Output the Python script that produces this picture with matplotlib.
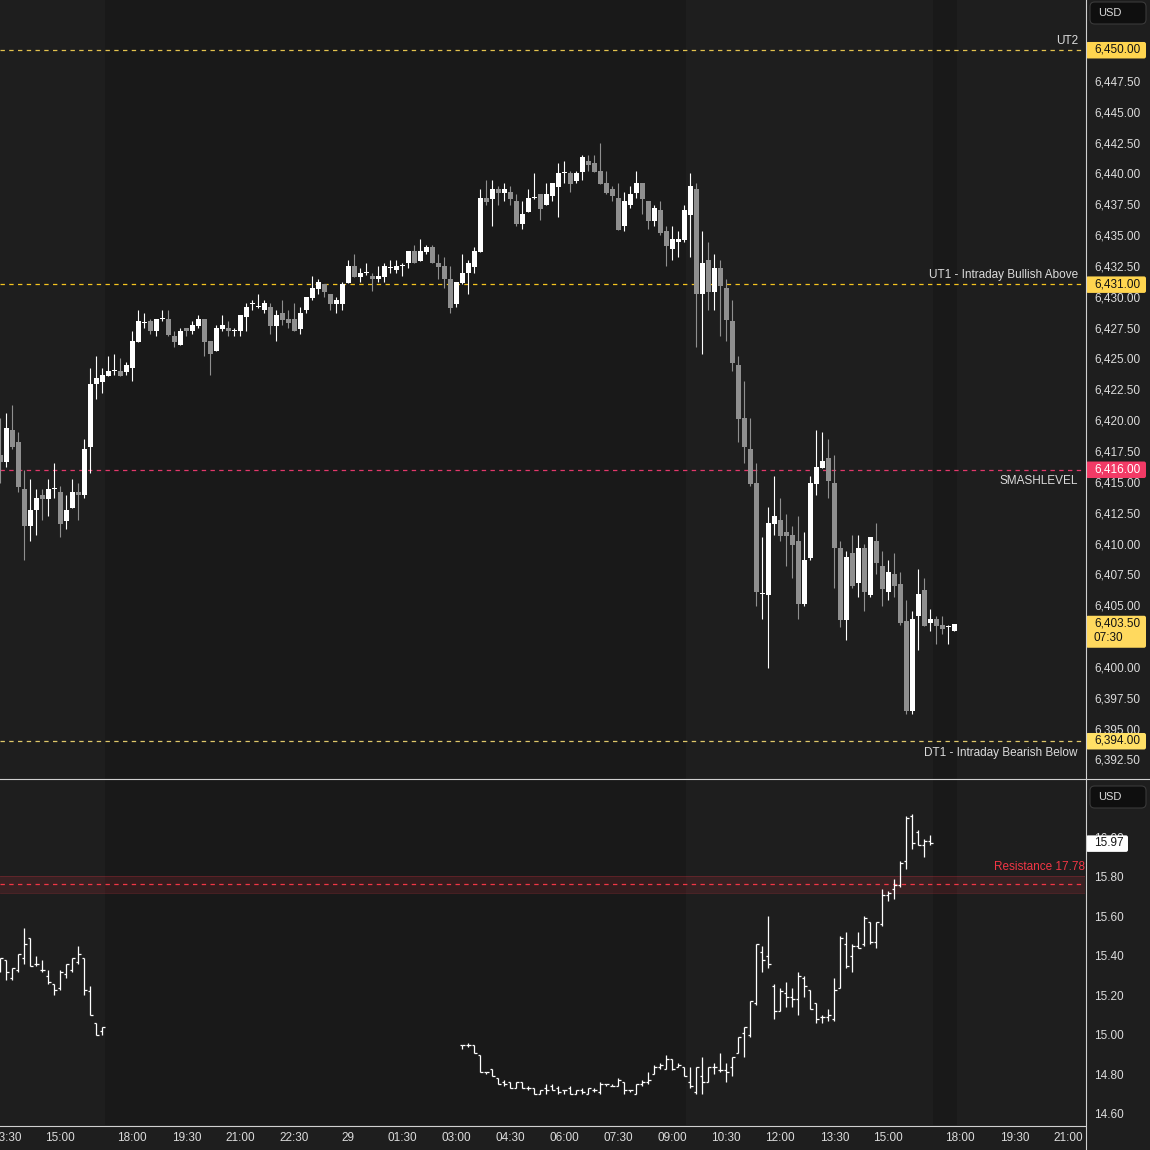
import numpy as np
import matplotlib
matplotlib.use('Agg')
import matplotlib.pyplot as plt
from matplotlib.patches import FancyBboxPatch, Rectangle
from matplotlib.lines import Line2D
from matplotlib.transforms import IdentityTransform
from matplotlib.ticker import FuncFormatter

plt.rcParams['font.family'] = ['Liberation Sans', 'DejaVu Sans']

# ---- ES 10 min candles (bar index 0..159) ----
opens = [6417.2, 6416.6, 6419.2, 6418.2, 6414.4, 6411.4, 6412.7, 6413.9, 6413.6, 6414.4,
         6414.2, 6411.8, 6412.9, 6414.2, 6413.9, 6417.8, 6422.9, 6423.1, 6423.6, 6424.0,
         6424.0, 6423.9, 6424.2, 6426.3, 6427.9, 6428.0, 6427.2, 6428.2, 6428.2, 6426.8,
         6426.1, 6427.5, 6427.2, 6427.6, 6428.2, 6426.4, 6425.6, 6427.4, 6427.5, 6427.2,
         6427.2, 6428.4, 6429.4, 6429.2, 6428.9, 6429.2, 6427.6, 6428.7, 6428.2, 6428.2,
         6427.4, 6428.9, 6429.9, 6430.6, 6431.0, 6430.2, 6429.4, 6429.4, 6431.1, 6432.5,
         6431.6, 6431.9, 6431.7, 6431.4, 6431.6, 6432.3, 6432.2, 6432.5, 6432.7, 6433.7,
         6432.9, 6433.6, 6434.0, 6432.7, 6432.5, 6431.4, 6429.4, 6431.1, 6431.9, 6432.4,
         6433.6, 6438.0, 6437.9, 6438.7, 6438.4, 6438.5, 6437.8, 6435.9, 6436.9, 6438.0,
         6438.3, 6437.4, 6438.2, 6438.9, 6440.0, 6440.0, 6439.4, 6440.1, 6441.0, 6440.8,
         6440.2, 6439.2, 6438.7, 6438.0, 6435.7, 6437.4, 6438.4, 6439.2, 6437.8, 6436.1,
         6437.0, 6435.3, 6433.9, 6434.4, 6434.6, 6436.6, 6438.7, 6430.2, 6433.0, 6430.4,
         6432.3, 6430.7, 6428.0, 6424.5, 6420.2, 6417.7, 6414.9, 6405.9, 6405.8, 6411.6,
         6411.9, 6410.9, 6410.7, 6410.2, 6405.1, 6408.8, 6414.8, 6416.1, 6416.9, 6414.9,
         6409.6, 6403.8, 6409.2, 6406.8, 6409.6, 6405.8, 6410.2, 6408.2, 6406.1, 6407.5,
         6406.7, 6403.7, 6396.4, 6404.1, 6406.2, 6403.6, 6403.9, 6403.4, 6403.2, 6402.9]
highs = [6420.2, 6420.6, 6421.2, 6419.0, 6416.0, 6415.2, 6414.4, 6414.4, 6415.2, 6416.5,
         6414.7, 6413.9, 6415.2, 6414.9, 6418.5, 6424.2, 6425.2, 6424.2, 6425.2, 6425.4,
         6425.0, 6424.7, 6427.2, 6428.9, 6428.7, 6428.2, 6428.2, 6428.9, 6428.9, 6427.2,
         6427.5, 6427.5, 6428.0, 6428.5, 6428.2, 6426.4, 6427.7, 6428.5, 6428.0, 6427.5,
         6428.5, 6429.5, 6429.7, 6430.2, 6429.7, 6429.5, 6428.9, 6429.7, 6428.9, 6429.5,
         6429.2, 6430.0, 6431.7, 6431.4, 6431.0, 6430.2, 6430.0, 6431.2, 6433.0, 6433.5,
         6432.3, 6432.7, 6431.9, 6432.5, 6432.7, 6433.0, 6433.0, 6432.7, 6433.7, 6434.2,
         6434.7, 6434.2, 6434.2, 6433.5, 6433.2, 6432.5, 6431.2, 6433.5, 6433.0, 6434.0,
         6438.7, 6439.5, 6439.5, 6439.0, 6439.2, 6439.0, 6438.3, 6437.8, 6438.7, 6440.0,
         6438.3, 6439.2, 6439.2, 6440.8, 6441.0, 6440.2, 6440.2, 6441.5, 6441.5, 6441.5,
         6442.5, 6440.2, 6439.0, 6439.2, 6438.5, 6439.0, 6440.2, 6439.2, 6437.8, 6437.4,
         6437.8, 6435.7, 6435.7, 6435.3, 6437.4, 6440.0, 6439.2, 6435.3, 6434.4, 6433.5,
         6433.0, 6431.4, 6429.7, 6425.2, 6423.2, 6420.2, 6416.5, 6410.5, 6413.0, 6415.5,
         6413.7, 6412.4, 6411.4, 6412.2, 6410.9, 6415.5, 6419.2, 6419.0, 6418.5, 6417.2,
         6410.2, 6409.4, 6410.7, 6410.7, 6410.0, 6410.5, 6411.7, 6409.4, 6408.7, 6409.2,
         6407.7, 6405.4, 6404.5, 6407.9, 6407.2, 6404.7, 6404.1, 6404.1, 6403.4, 6403.5]
lows = [6414.9, 6416.2, 6417.7, 6414.2, 6408.7, 6410.2, 6410.7, 6411.9, 6412.2, 6413.7,
        6410.5, 6411.2, 6412.9, 6411.9, 6413.7, 6415.7, 6421.7, 6422.2, 6423.6, 6423.7,
        6423.6, 6423.7, 6423.2, 6426.3, 6427.5, 6427.0, 6426.8, 6428.0, 6426.8, 6425.9,
        6426.1, 6426.8, 6427.0, 6427.5, 6425.2, 6423.7, 6425.6, 6427.2, 6426.8, 6426.8,
        6426.8, 6427.2, 6428.9, 6429.1, 6428.7, 6427.0, 6426.4, 6427.7, 6427.5, 6427.2,
        6427.0, 6428.7, 6429.7, 6430.2, 6430.0, 6428.9, 6428.7, 6428.9, 6431.1, 6431.6,
        6431.2, 6431.8, 6430.5, 6431.2, 6431.2, 6431.9, 6431.9, 6431.7, 6432.3, 6432.7,
        6432.9, 6433.5, 6432.7, 6431.4, 6430.7, 6428.7, 6429.2, 6431.0, 6430.2, 6431.9,
        6433.6, 6437.4, 6435.7, 6437.4, 6437.8, 6437.4, 6435.7, 6435.5, 6436.9, 6437.9,
        6436.2, 6437.4, 6437.8, 6436.5, 6439.2, 6438.5, 6439.2, 6439.5, 6440.2, 6440.1,
        6439.1, 6438.3, 6437.8, 6435.4, 6435.3, 6437.2, 6438.0, 6436.7, 6435.5, 6435.7,
        6435.0, 6432.5, 6433.0, 6433.2, 6434.4, 6433.2, 6425.9, 6425.4, 6428.9, 6428.9,
        6426.8, 6426.4, 6424.0, 6418.2, 6416.5, 6414.7, 6404.9, 6403.9, 6399.9, 6410.7,
        6410.2, 6408.2, 6407.2, 6403.9, 6404.9, 6408.7, 6413.9, 6416.1, 6413.7, 6406.4,
        6403.2, 6402.2, 6406.4, 6405.7, 6404.5, 6405.7, 6407.5, 6404.9, 6405.4, 6405.7,
        6403.4, 6396.2, 6396.2, 6401.4, 6403.3, 6402.9, 6401.9, 6402.7, 6401.9, 6402.9]
closes = [6416.6, 6419.4, 6417.8, 6414.6, 6411.4, 6412.7, 6413.7, 6413.6, 6414.4, 6414.4,
          6411.6, 6412.7, 6414.2, 6413.9, 6417.7, 6422.9, 6423.4, 6423.7, 6424.0, 6424.0,
          6423.6, 6424.5, 6426.4, 6428.0, 6427.9, 6427.2, 6428.2, 6428.2, 6426.9, 6426.3,
          6427.2, 6427.2, 6427.7, 6428.2, 6426.3, 6425.4, 6427.5, 6427.7, 6427.2, 6427.2,
          6428.5, 6429.2, 6429.4, 6429.2, 6429.5, 6427.6, 6428.5, 6428.1, 6427.9, 6427.2,
          6428.7, 6430.0, 6430.7, 6431.2, 6430.4, 6429.4, 6429.7, 6431.0, 6432.5, 6431.6,
          6431.9, 6431.9, 6431.4, 6431.7, 6432.5, 6432.3, 6432.5, 6432.5, 6433.7, 6432.7,
          6433.7, 6434.0, 6432.7, 6432.4, 6431.4, 6429.1, 6431.2, 6431.9, 6432.7, 6433.7,
          6438.0, 6437.7, 6438.7, 6438.4, 6438.7, 6437.9, 6435.9, 6436.7, 6438.0, 6438.0,
          6437.1, 6438.3, 6439.2, 6440.0, 6440.0, 6439.1, 6440.0, 6441.3, 6440.7, 6440.1,
          6439.1, 6438.4, 6438.2, 6435.4, 6437.8, 6438.3, 6439.2, 6437.9, 6436.1, 6437.2,
          6435.2, 6434.1, 6434.7, 6434.7, 6437.0, 6439.0, 6430.2, 6432.7, 6430.4, 6432.3,
          6430.9, 6428.1, 6424.6, 6420.1, 6417.8, 6414.8, 6406.1, 6405.9, 6411.7, 6412.2,
          6410.6, 6410.6, 6409.9, 6405.1, 6408.7, 6414.9, 6416.2, 6416.7, 6415.1, 6409.6,
          6403.8, 6408.9, 6406.6, 6409.6, 6406.1, 6410.5, 6408.4, 6406.3, 6407.7, 6406.6,
          6403.6, 6396.4, 6403.9, 6405.9, 6403.3, 6403.9, 6403.3, 6403.1, 6403.2, 6403.5]

# ---- VIX 10 min OHLC bars, two stretches ----
vix_start_a = 0
vix_open_a = [15.36, 15.38, 15.29, 15.33, 15.39, 15.49, 15.36, 15.33, 15.30, 15.26,
              15.24, 15.31, 15.33, 15.37, 15.39, 15.22, 15.06, 15.02]
vix_high_a = [15.39, 15.38, 15.34, 15.41, 15.54, 15.49, 15.40, 15.38, 15.33, 15.26,
              15.33, 15.36, 15.39, 15.45, 15.39, 15.25, 15.06, 15.04]
vix_low_a = [15.32, 15.28, 15.28, 15.32, 15.36, 15.35, 15.35, 15.32, 15.26, 15.20,
             15.23, 15.29, 15.32, 15.36, 15.20, 15.10, 15.00, 15.00]
vix_close_a = [15.39, 15.32, 15.34, 15.41, 15.46, 15.35, 15.36, 15.33, 15.27, 15.23,
               15.32, 15.36, 15.39, 15.41, 15.23, 15.10, 15.00, 15.04]

vix_start_b = 77
vix_open_b = [14.95, 14.95, 14.95, 14.90, 14.81, 14.83, 14.78, 14.76, 14.76, 14.73,
              14.76, 14.73, 14.73, 14.70, 14.73, 14.74, 14.73, 14.72, 14.73, 14.70,
              14.72, 14.70, 14.72, 14.71, 14.75, 14.74, 14.74, 14.76, 14.72, 14.70,
              14.75, 14.76, 14.80, 14.84, 14.83, 14.88, 14.84, 14.84, 14.76, 14.71,
              14.79, 14.76, 14.84, 14.82, 14.82, 14.84, 14.91, 15.01, 15.00, 15.16,
              15.42, 15.40, 15.25, 15.12, 15.21, 15.19, 15.18, 15.29, 15.23, 15.16,
              15.09, 15.09, 15.08, 15.24, 15.46, 15.40, 15.45, 15.46, 15.57, 15.47,
              15.56, 15.71, 15.74, 15.76, 15.88, 16.11, 16.03, 15.96, 15.98]
vix_high_b = [14.95, 14.96, 14.95, 14.90, 14.81, 14.83, 14.78, 14.77, 14.76, 14.76,
              14.76, 14.74, 14.73, 14.72, 14.75, 14.75, 14.74, 14.72, 14.74, 14.72,
              14.73, 14.73, 14.73, 14.76, 14.75, 14.75, 14.78, 14.76, 14.72, 14.75,
              14.77, 14.81, 14.85, 14.86, 14.90, 14.88, 14.86, 14.84, 14.84, 14.84,
              14.89, 14.84, 14.86, 14.91, 14.86, 14.89, 14.99, 15.04, 15.17, 15.46,
              15.45, 15.60, 15.26, 15.24, 15.27, 15.24, 15.32, 15.30, 15.23, 15.16,
              15.10, 15.13, 15.29, 15.50, 15.52, 15.46, 15.52, 15.60, 15.57, 15.57,
              15.74, 15.73, 15.79, 15.88, 16.11, 16.12, 16.04, 15.99, 16.01]
vix_low_b = [14.93, 14.94, 14.91, 14.81, 14.80, 14.79, 14.75, 14.74, 14.73, 14.73,
             14.73, 14.72, 14.70, 14.70, 14.70, 14.72, 14.70, 14.70, 14.70, 14.70,
             14.70, 14.70, 14.71, 14.70, 14.74, 14.74, 14.74, 14.70, 14.71, 14.70,
             14.74, 14.75, 14.80, 14.83, 14.83, 14.82, 14.84, 14.79, 14.73, 14.70,
             14.70, 14.76, 14.80, 14.81, 14.76, 14.79, 14.91, 14.89, 14.99, 15.15,
             15.32, 15.34, 15.08, 15.12, 15.14, 15.14, 15.10, 15.19, 15.13, 15.06,
             15.06, 15.07, 15.07, 15.24, 15.34, 15.32, 15.44, 15.45, 15.46, 15.44,
             15.55, 15.68, 15.69, 15.75, 15.84, 15.94, 15.96, 15.90, 15.96]
vix_close_b = [14.95, 14.95, 14.91, 14.81, 14.81, 14.79, 14.75, 14.75, 14.73, 14.76,
               14.73, 14.73, 14.70, 14.72, 14.72, 14.72, 14.71, 14.72, 14.70, 14.72,
               14.71, 14.73, 14.72, 14.75, 14.75, 14.74, 14.77, 14.72, 14.72, 14.75,
               14.76, 14.77, 14.84, 14.85, 14.88, 14.83, 14.85, 14.79, 14.74, 14.84,
               14.76, 14.84, 14.84, 14.82, 14.81, 14.89, 14.99, 15.04, 15.17, 15.46,
               15.38, 15.36, 15.12, 15.22, 15.19, 15.18, 15.30, 15.25, 15.13, 15.08,
               15.09, 15.10, 15.23, 15.49, 15.35, 15.45, 15.44, 15.59, 15.47, 15.57,
               15.71, 15.72, 15.76, 15.87, 16.10, 15.97, 15.96, 15.98, 15.97]

# ---- levels / labels ----
level_values = [6450.00, 6431.00, 6416.00, 6394.00]
level_names = ['UT2', 'UT1 - Intraday Bullish Above', 'SMASHLEVEL', 'DT1 - Intraday Bearish Below']
last_price = 6403.50
last_countdown = '07:30'
vix_last = 15.97
resistance_value = 15.763
resistance_band = (15.72, 15.805)
resistance_text = 'Resistance 17.78'

time_ticks = [1, 10, 22, 31, 40, 49, 58, 67, 76, 85, 94, 103, 112, 121, 130, 139, 148, 160, 169, 178]
time_labels = ['13:30', '15:00', '18:00', '19:30', '21:00', '22:30', '29', '01:30', '03:00', '04:30',
               '06:00', '07:30', '09:00', '10:30', '12:00', '13:30', '15:00', '18:00', '19:30', '21:00']

# styles
BG = '#1e1e1e'
BG_DARK = '#191919'
TXT = '#dcdcdc'
UP = '#ffffff'
DOWN = '#8f8f8f'
level_line_colors = ['#e3c24e', '#f5c41f', '#e2386b', '#e0c86a']
level_tag_colors = ['#ffd54f', '#ffd54f', '#f23a66', '#ffe066']
level_tag_text = ['#131313', '#131313', '#ffffff', '#131313']
level_text_above = [True, True, False, False]
RED = '#f23645'

W, H = 1150, 1150
fig = plt.figure(figsize=(W / 100, H / 100), dpi=100, facecolor=BG)


def fx(px):
    return px / W


def fy(py):
    return 1 - py / H


AX_R = 1085
ax1 = fig.add_axes([0, fy(778), fx(AX_R), 778 / H])
ax2 = fig.add_axes([0, fy(1125), fx(AX_R), (1125 - 779) / H])

# session shading (behind everything)
for x0, x1 in [(105, 686), (933, 957)]:
    fig.add_artist(Rectangle((fx(x0), fy(1125)), fx(x1 - x0), 1125 / H,
                             transform=fig.transFigure, fc=BG_DARK, ec='none', zorder=-5))

for ax in (ax1, ax2):
    ax.set_facecolor('none')
    for s in ax.spines.values():
        s.set_visible(False)
    ax.set_xlim(-0.05, 180.78)
    ax.yaxis.tick_right()
    ax.tick_params(axis='y', length=0, pad=6.5, labelsize=8.5, labelcolor=TXT)

ax1.set_ylim(6391.0, 6454.05)
ax2.set_ylim(14.544, 16.296)

ax1.set_yticks(np.arange(6392.5, 6450.01, 2.5))
ax1.yaxis.set_major_formatter(FuncFormatter(lambda v, p: f'{v:,.2f}'))
ax1.set_xticks([])
ax2.set_yticks(np.arange(14.6, 16.01, 0.2))
ax2.yaxis.set_major_formatter(FuncFormatter(lambda v, p: f'{v:.2f}'))
ax2.set_xticks(time_ticks)
ax2.set_xticklabels(time_labels)
ax2.tick_params(axis='x', length=0, pad=5, labelsize=8.5, labelcolor=TXT)

# ---- candles ----
o = np.array(opens)
h = np.array(highs)
l = np.array(lows)
c = np.array(closes)
idx = np.arange(len(o))
cols = np.where(c >= o, UP, DOWN)
ax1.vlines(idx, l, h, colors=cols, lw=0.8, zorder=3)
body_h = np.maximum(np.abs(c - o), 0.09)
ax1.bar(idx, body_h, bottom=np.minimum(o, c), width=0.78, color=cols, linewidth=0, zorder=3)

# ---- VIX bars ----
for start, vo, vh, vl, vc in [(vix_start_a, vix_open_a, vix_high_a, vix_low_a, vix_close_a),
                              (vix_start_b, vix_open_b, vix_high_b, vix_low_b, vix_close_b)]:
    vi = np.arange(start, start + len(vo))
    ax2.vlines(vi, vl, vh, colors='white', lw=0.9, zorder=3)
    ax2.hlines(vo, vi - 0.4, vi, colors='white', lw=0.9, zorder=3)
    ax2.hlines(vc, vi, vi + 0.4, colors='white', lw=0.9, zorder=3)

# ---- level lines ----
tr1 = matplotlib.transforms.blended_transform_factory(ax1.transAxes, ax1.transData)
for val, name, lc, above in zip(level_values, level_names, level_line_colors, level_text_above):
    ax1.axhline(val, color=lc, lw=0.9, linestyle=(0, (3.5, 3.5)), zorder=2)
    ax1.annotate(name, xy=(1 - 7 / AX_R, val), xycoords=tr1, textcoords='offset points',
                 xytext=(0, 6.6 if above else -8.6), ha='right', va='center',
                 fontsize=8.5, color=TXT)

# ---- resistance zone ----
ax2.axhspan(resistance_band[0], resistance_band[1], color=RED, alpha=0.13, lw=0, zorder=1)
ax2.axhline(resistance_band[0], color=RED, alpha=0.25, lw=0.6)
ax2.axhline(resistance_band[1], color=RED, alpha=0.25, lw=0.6)
ax2.axhline(resistance_value, color=RED, lw=0.9, linestyle=(0, (3.5, 3.5)), zorder=2)
tr2 = matplotlib.transforms.blended_transform_factory(ax2.transAxes, ax2.transData)
ax2.annotate(resistance_text, xy=(1.0, resistance_band[1]), xycoords=tr2, textcoords='offset points',
             xytext=(0, 6.8), ha='right', va='center', fontsize=8.5, color=RED, clip_on=False)


# ---- axis tags ----
def tag(ax, value, text, fc, tc, h_above=8, h_below=8.5, x0=1086, w=60):
    _, yd = ax.transData.transform((0, value))
    fig.add_artist(FancyBboxPatch((x0, yd - h_below), w, h_above + h_below,
                                  boxstyle='round,pad=0,rounding_size=2',
                                  transform=IdentityTransform(), fc=fc, ec='none', zorder=10))
    if '\n' in text:
        fig.text(fx(1094), (yd + 6) / H, text, color=tc, fontsize=8.5, ha='left', va='top',
                 linespacing=1.2, zorder=11)
    else:
        fig.text(fx(1094), yd / H, text, color=tc, fontsize=8.5, ha='left', va='center', zorder=11)
    return yd


for val, fc, tc in zip(level_values, level_tag_colors, level_tag_text):
    tag(ax1, val, f'{val:,.2f}', fc, tc)

# last price with bar countdown
tag(ax1, last_price, f'{last_price:,.2f}\n{last_countdown}', '#ffd95e', '#131313',
    h_above=8, h_below=24)

tag(ax2, vix_last, f'{vix_last:.2f}', '#ffffff', '#131313', x0=1086, w=42)

# USD boxes
for top in (2, 786):
    fig.add_artist(FancyBboxPatch((fx(1090), fy(top + 22)), fx(56), 22 / H,
                                  boxstyle='round,pad=0,rounding_size=0.004',
                                  transform=fig.transFigure, fc='#0f0f0f', ec='#3a3a3a',
                                  lw=0.8, zorder=10))
    fig.text(fx(1098), fy(top + 11), 'USD', color=TXT, fontsize=8, ha='left', va='center',
             zorder=11)

# frame lines
fig.add_artist(Line2D([fx(AX_R) + 0.5 / W] * 2, [0, 1], color='#d0d0d0', lw=0.8,
                      transform=fig.transFigure, zorder=12))
fig.add_artist(Line2D([0, 1], [fy(778.5)] * 2, color='#d0d0d0', lw=0.8,
                      transform=fig.transFigure, zorder=12))
fig.add_artist(Line2D([0, fx(AX_R)], [fy(1125.5)] * 2, color='#d0d0d0', lw=0.8,
                      transform=fig.transFigure, zorder=12))

fig.savefig('out.png', dpi=100, facecolor=BG)
